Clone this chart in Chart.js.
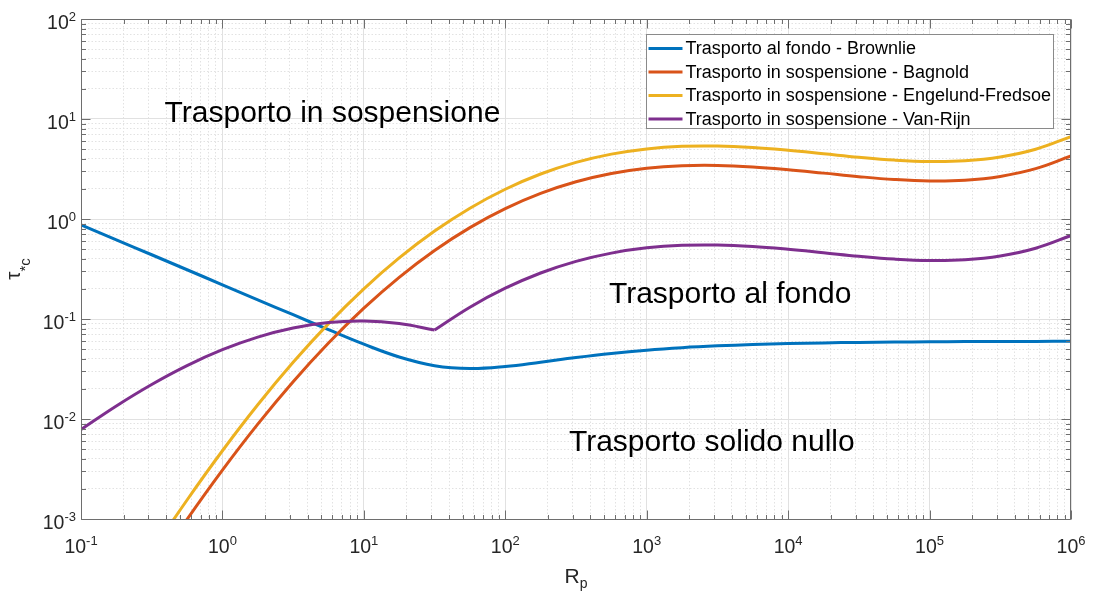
<!DOCTYPE html>
<html>
<head>
<meta charset="utf-8">
<script src="https://cdn.jsdelivr.net/npm/chart.js@4.4.1/dist/chart.umd.min.js"></script>
<style>
  html, body { margin: 0; padding: 0; background: #ffffff; }
  canvas { display: block; }
</style>
</head>
<body>
<canvas id="chart" width="1093" height="591"></canvas>
<script>
// Particle Reynolds number Rp (x axis)
const rp = [0.1, 0.1778, 0.3162, 0.5623, 1, 1.778, 3.162, 5.623, 10, 17.78, 31.62, 56.23,
  100, 177.8, 316.2, 562.3, 1000, 1778, 3162, 5623, 1e4, 1.778e4, 3.162e4, 5.623e4,
  1e5, 1.778e5, 3.162e5, 5.623e5, 1e6];

// Critical Shields parameter, bed-load threshold (Brownlie)
const brownlie = [0.8758, 0.6200, 0.4390, 0.3108, 0.2200, 0.1557, 0.1103, 0.07817, 0.05596,
  0.04169, 0.03413, 0.03196, 0.03348, 0.03700, 0.04120, 0.04526, 0.04880, 0.05165, 0.05387,
  0.05555, 0.05679, 0.05770, 0.05835, 0.05883, 0.05917, 0.05941, 0.05958, 0.05970, 0.05979];

// Suspension threshold (Bagnold)
const bagnold = [2.278e-5, 8.446e-5, 2.981e-4, 9.915e-4, 3.080e-3, 8.875e-3, 0.02359, 0.05751,
  0.1283, 0.2610, 0.4846, 0.8205, 1.270, 1.803, 2.356, 2.850, 3.216, 3.411, 3.435, 3.319,
  3.113, 2.876, 2.652, 2.484, 2.401, 2.441, 2.664, 3.186, 4.271];

// Suspension threshold (Engelund-Fredsoe)
const engelund = [3.559e-5, 1.320e-4, 4.658e-4, 1.549e-3, 4.813e-3, 0.01387, 0.03686, 0.08986,
  0.2005, 0.4078, 0.7572, 1.282, 1.984, 2.817, 3.681, 4.453, 5.025, 5.330, 5.367, 5.186,
  4.864, 4.494, 4.144, 3.881, 3.752, 3.814, 4.163, 4.978, 6.673];

// Suspension threshold (Van Rijn), two branches meeting at Rp = 31.62
const vanRijn = [0.007851, 0.01351, 0.02214, 0.03418, 0.04928, 0.06592, 0.08128, 0.09202,
  0.09526, 0.08997, 0.07754, 0.1313, 0.2032, 0.2885, 0.3770, 0.4560, 0.5146, 0.5458, 0.5496,
  0.5310, 0.4981, 0.4602, 0.4243, 0.3974, 0.3842, 0.3906, 0.4262, 0.5098, 0.6834];
const vanRijnBreak = 10;

const seriesNames = [
  'Trasporto al fondo - Brownlie',
  'Trasporto in sospensione - Bagnold',
  'Trasporto in sospensione - Engelund-Fredsoe',
  'Trasporto in sospensione - Van-Rijn'
];
const regionLabels = ['Trasporto in sospensione', 'Trasporto al fondo', 'Trasporto solido nullo'];

// Decade exponents used for the tick labels
const xDecades = [-1, 0, 1, 2, 3, 4, 5, 6];
const yDecades = [-3, -2, -1, 0, 1, 2];

// ---- styling ----
const FONT = "'Liberation Sans', Arial, Helvetica, sans-serif";
const COLORS = ['#0072BD', '#D95319', '#EDB120', '#7E2F8E'];
const AXIS_COLOR = '#6e6e6e';
const TICK_TEXT = '#262626';
// region label anchors in data coordinates (left edge, baseline)
const REGION_ANCHORS = [[0.39, 9.3], [541, 0.1445], [282, 0.00479]];

function isDecade(v) {
  const l = Math.log10(v);
  return Math.abs(l - Math.round(l)) < 1e-6;
}
function logTicks(minExp, maxExp) {
  const t = [];
  for (let e = minExp; e < maxExp; e++) {
    for (let m = 1; m < 10; m++) t.push({ value: m * Math.pow(10, e) });
  }
  t.push({ value: Math.pow(10, maxExp) });
  return t;
}
function points(xs, ys) {
  return xs.map((x, i) => ({ x: x, y: ys[i] }));
}
function series(label, xs, ys, color, order) {
  return {
    label: label,
    data: points(xs, ys),
    borderColor: color,
    backgroundColor: color,
    borderWidth: 3,
    pointRadius: 0,
    fill: false,
    tension: 0.4,
    clip: 0,
    order: order
  };
}

const datasets = [
  series(seriesNames[0], rp, brownlie, COLORS[0], 4),
  series(seriesNames[1], rp, bagnold, COLORS[1], 3),
  series(seriesNames[2], rp, engelund, COLORS[2], 2),
  series(seriesNames[3], rp.slice(0, vanRijnBreak + 1), vanRijn.slice(0, vanRijnBreak + 1), COLORS[3], 1),
  series(seriesNames[3], rp.slice(vanRijnBreak), vanRijn.slice(vanRijnBreak), COLORS[3], 1)
];

function gridScale(minExp, maxExp, fit) {
  return {
    type: 'logarithmic',
    min: Math.pow(10, minExp),
    max: Math.pow(10, maxExp),
    afterBuildTicks(s) { s.ticks = logTicks(minExp, maxExp); },
    afterFit: fit,
    ticks: { display: false },
    grid: {
      drawTicks: false,
      lineWidth: 1,
      color: c => (c.tick && isDecade(c.tick.value)) ? '#e1e1e1' : '#e2e2e2'
    },
    border: {
      display: false,
      dash: c => (c.tick && isDecade(c.tick.value)) ? [] : [1.5, 2]
    }
  };
}

// Box, inward ticks, decade labels, axis titles, region labels and legend
const axesFrame = {
  id: 'axesFrame',
  afterDraw(chart) {
    const ctx = chart.ctx;
    const a = chart.chartArea;
    const xs = chart.scales.x, ys = chart.scales.y;
    const L = Math.round(a.left) + 0.5, R = Math.round(a.right) - 0.5;
    const T = Math.round(a.top) + 0.5, B = Math.round(a.bottom) + 0.5;

    ctx.save();
    // region labels
    ctx.fillStyle = '#000000';
    ctx.font = `30px ${FONT}`;
    ctx.textAlign = 'left';
    ctx.textBaseline = 'alphabetic';
    regionLabels.forEach((t, i) => {
      ctx.fillText(t, xs.getPixelForValue(REGION_ANCHORS[i][0]), ys.getPixelForValue(REGION_ANCHORS[i][1]));
    });

    // axes box
    ctx.strokeStyle = AXIS_COLOR;
    ctx.lineWidth = 1;
    ctx.beginPath();
    ctx.rect(L, T, R - L, B - T);
    ctx.stroke();

    // inward ticks on all four sides
    ctx.beginPath();
    logTicks(-1, 6).forEach(t => {
      const p = Math.round(xs.getPixelForValue(t.value)) + 0.5;
      const len = isDecade(t.value) ? 9 : 4.5;
      ctx.moveTo(p, B); ctx.lineTo(p, B - len);
      ctx.moveTo(p, T); ctx.lineTo(p, T + len);
    });
    logTicks(-3, 2).forEach(t => {
      const p = Math.round(ys.getPixelForValue(t.value)) + 0.5;
      const len = isDecade(t.value) ? 9 : 4.5;
      ctx.moveTo(L, p); ctx.lineTo(L + len, p);
      ctx.moveTo(R, p); ctx.lineTo(R - len, p);
    });
    ctx.stroke();

    // decade labels 10^n
    const baseFont = `19.5px ${FONT}`, expFont = `13px ${FONT}`;
    ctx.fillStyle = TICK_TEXT;
    xDecades.forEach(e => {
      const p = xs.getPixelForValue(Math.pow(10, e));
      const exp = String(e);
      ctx.font = baseFont; const wb = ctx.measureText('10').width;
      ctx.font = expFont; const we = ctx.measureText(exp).width;
      const s = p - (wb + we) / 2;
      ctx.font = baseFont; ctx.fillText('10', s, B + 33);
      ctx.font = expFont; ctx.fillText(exp, s + wb, B + 25);
    });
    yDecades.forEach(e => {
      const p = ys.getPixelForValue(Math.pow(10, e));
      const exp = String(e);
      ctx.font = baseFont; const wb = ctx.measureText('10').width;
      ctx.font = expFont; const we = ctx.measureText(exp).width;
      const right = a.left - 5;
      ctx.font = baseFont; ctx.fillText('10', right - we - wb, p + 10);
      ctx.font = expFont; ctx.fillText(exp, right - we, p + 1.5);
    });

    // x title R_p
    const cx = (a.left + a.right) / 2;
    ctx.font = `21px ${FONT}`; const wR = ctx.measureText('R').width;
    ctx.font = `14px ${FONT}`; const wp = ctx.measureText('p').width;
    const sx = cx - (wR + wp) / 2;
    ctx.font = `21px ${FONT}`; ctx.fillText('R', sx, B + 63);
    ctx.font = `14px ${FONT}`; ctx.fillText('p', sx + wR, B + 68);

    // y title tau_*c
    ctx.save();
    ctx.translate(20, (a.top + a.bottom) / 2);
    ctx.rotate(-Math.PI / 2);
    ctx.font = `21px ${FONT}`; const wt = ctx.measureText('τ').width;
    ctx.font = `15px ${FONT}`; const wsub = ctx.measureText('*c').width;
    const st = -(wt + wsub) / 2;
    ctx.font = `21px ${FONT}`; ctx.fillText('τ', st, 0);
    ctx.font = `15px ${FONT}`; ctx.fillText('*c', st + wt, 10);
    ctx.restore();

    // legend
    const boxW = 407, boxH = 94;
    const bx = Math.round(a.right - 18 - boxW) + 0.5;
    const by = Math.round(a.top + 15) + 0.5;
    ctx.fillStyle = '#ffffff';
    ctx.fillRect(bx, by, boxW, boxH);
    ctx.strokeStyle = '#8a8a8a';
    ctx.lineWidth = 1;
    ctx.strokeRect(bx, by, boxW, boxH);
    ctx.font = `18px ${FONT}`;
    ctx.textBaseline = 'middle';
    seriesNames.forEach((name, i) => {
      const yy = by + 14 + i * 23.5;
      ctx.strokeStyle = COLORS[i];
      ctx.lineWidth = 3;
      ctx.beginPath();
      ctx.moveTo(bx + 2, yy); ctx.lineTo(bx + 36, yy);
      ctx.stroke();
      ctx.fillStyle = '#000000';
      ctx.fillText(name, bx + 39, yy + 1);
    });
    ctx.restore();
  }
};

new Chart(document.getElementById('chart'), {
  type: 'line',
  data: { datasets: datasets },
  options: {
    responsive: false,
    animation: false,
    devicePixelRatio: 1,
    layout: { padding: { left: 0, right: 22, top: 19, bottom: 0 } },
    elements: { line: { capBezierPoints: false } },
    plugins: {
      legend: { display: false },
      tooltip: { enabled: false }
    },
    scales: {
      x: gridScale(-1, 6, s => { s.height = 72; }),
      y: gridScale(-3, 2, s => { s.width = 81; })
    }
  },
  plugins: [axesFrame]
});
</script>
</body>
</html>
